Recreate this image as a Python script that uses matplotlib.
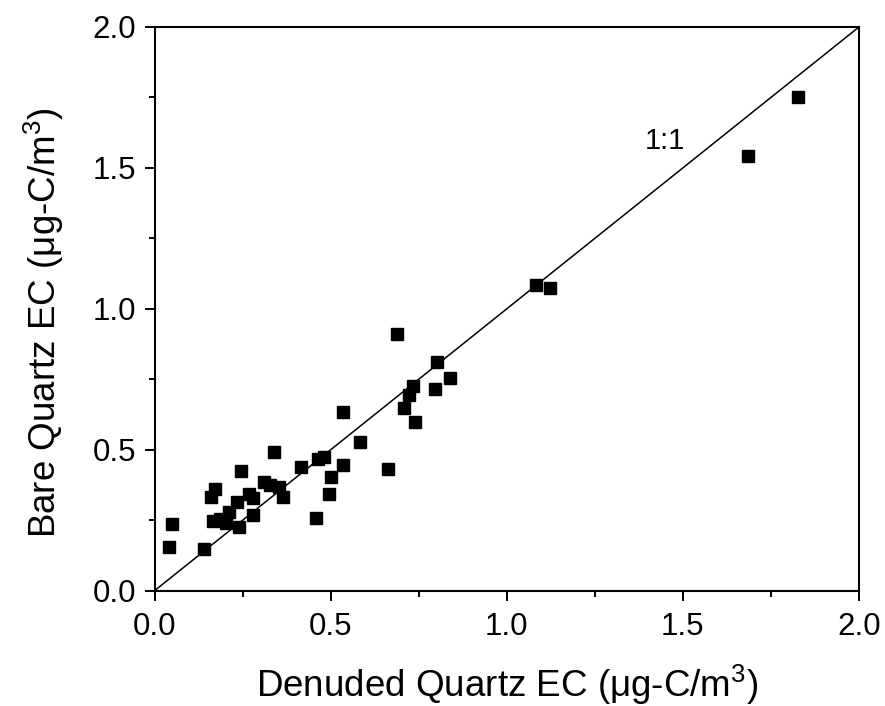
import matplotlib
matplotlib.use("Agg")
import matplotlib.pyplot as plt
import numpy as np

plt.rcParams.update({"font.family": ["Liberation Sans", "DejaVu Sans"],
                     "mathtext.fontset": "custom", "mathtext.rm": "Liberation Sans",
                     "mathtext.it": "Liberation Sans:italic"})

# denuded quartz EC (x) vs bare quartz EC (y), ug-C/m3
denuded = [0.041, 0.049, 0.141, 0.160, 0.172, 0.165, 0.186, 0.203, 0.212, 0.235,
           0.241, 0.245, 0.269, 0.281, 0.279, 0.312, 0.328, 0.338, 0.352, 0.366,
           0.415, 0.459, 0.465, 0.480, 0.496, 0.500, 0.535, 0.536, 0.584, 0.664,
           0.688, 0.802, 0.840, 0.735, 0.723, 0.797, 0.707, 0.740,
           1.083, 1.124, 1.686, 1.828]
bare = [0.156, 0.237, 0.148, 0.331, 0.361, 0.248, 0.253, 0.239, 0.280, 0.316,
        0.226, 0.424, 0.343, 0.328, 0.268, 0.384, 0.375, 0.491, 0.367, 0.333,
        0.440, 0.257, 0.469, 0.475, 0.343, 0.404, 0.633, 0.447, 0.528, 0.432,
        0.910, 0.812, 0.753, 0.727, 0.694, 0.715, 0.647, 0.599,
        1.084, 1.075, 1.541, 1.751]
one_to_one = [0.0, 2.0]

fig = plt.figure(figsize=(8.85, 7.06), dpi=100)
ax = fig.add_axes([0.1746, 0.1633, 0.7960, 0.7985])
ax.plot(one_to_one, one_to_one, color="black", lw=1.1, zorder=1)
ax.plot(denuded, bare, ls="", marker="s", ms=8.5, mfc="black", mec="black", zorder=2)
ax.text(1.450, 1.596, "1:1", fontsize=21, ha="center", va="center")

ax.set_xlim(0, 2.0)
ax.set_ylim(0, 2.0)
ax.set_xticks(np.arange(0, 2.01, 0.5))
ax.set_yticks(np.arange(0, 2.01, 0.5))
ax.set_xticks(np.arange(0.25, 2.0, 0.5), minor=True)
ax.set_yticks(np.arange(0.25, 2.0, 0.5), minor=True)
ax.xaxis.set_major_formatter(matplotlib.ticker.FormatStrFormatter("%.1f"))
ax.yaxis.set_major_formatter(matplotlib.ticker.FormatStrFormatter("%.1f"))
ax.tick_params(which="major", direction="out", length=7.5, width=1.4, labelsize=22.5)
ax.tick_params(which="minor", direction="out", length=4, width=1.4)
ax.tick_params(axis="x", which="major", pad=7.5)
ax.tick_params(axis="y", which="major", pad=5.5)
for s in ax.spines.values():
    s.set_linewidth(1.5)

ax.set_xlabel("Denuded Quartz EC (\u03bcg-C/m$^3$)", fontsize=26.5, labelpad=15)
ax.set_ylabel("Bare Quartz EC (\u03bcg-C/m$^3$)", fontsize=26.5)
ax.yaxis.set_label_coords(-0.125, 0.475)

fig.savefig("out.png", dpi=100)
